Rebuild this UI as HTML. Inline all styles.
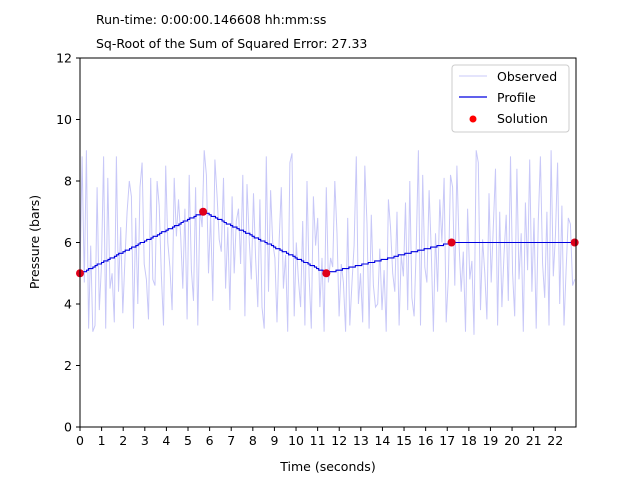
<!DOCTYPE html>
<html><head><meta charset="utf-8"><style>
body{margin:0;background:#fff;}
svg{display:block;font-family:"DejaVu Sans","Liberation Sans",sans-serif;}
</style></head><body>
<svg id="chart" width="640" height="480" viewBox="0 0 640 480">
<text x="96" y="24" font-size="12.5">Run-time: 0:00:00.146608 hh:mm:ss</text>
<text x="96" y="48" font-size="12.5">Sq-Root of the Sum of Squared Error: 27.33</text>
<g id="plot"></g>
<rect x="80" y="58" width="496" height="369" fill="none" stroke="#000" stroke-width="1"/>
<g id="axes"></g>
<text x="328" y="471" font-size="12.5" text-anchor="middle">Time (seconds)</text>
<text transform="translate(39,242) rotate(-90)" font-size="12.5" text-anchor="middle">Pressure (bars)</text>
<g>
<rect x="452" y="65" width="117" height="67" rx="3" fill="#fff" stroke="#ccc" stroke-width="1"/>
<line x1="459" y1="76" x2="487" y2="76" stroke="#c8c8f8" stroke-width="1"/>
<text x="497" y="81" font-size="12.5">Observed</text>
<line x1="459" y1="97" x2="487" y2="97" stroke="#0000e0" stroke-width="1.2"/>
<text x="497" y="102" font-size="12.5">Profile</text>
<circle cx="473" cy="119" r="3.5" fill="red"/>
<text x="497" y="123" font-size="12.5">Solution</text>
</g>
</svg>
<script>
const observed = [5.0,8.8,4.7,9.0,3.2,5.9,3.1,3.3,7.8,3.8,5.2,8.8,3.2,8.1,4.5,5.0,3.4,8.8,4.4,6.5,3.7,5.5,7.0,8.0,7.5,3.2,6.8,4.0,7.8,8.6,5.3,4.8,3.5,8.1,4.8,4.6,8.0,7.2,4.9,3.3,8.5,6.0,5.2,3.8,8.1,6.2,7.4,6.2,4.5,7.1,3.5,8.2,5.1,4.1,7.8,3.3,7.1,6.5,9.0,8.2,5.0,6.9,4.1,8.7,7.5,6.1,5.7,8.1,4.5,6.5,3.8,7.5,5.0,6.7,7.1,5.3,8.2,3.6,7.9,6.1,4.8,7.6,5.5,3.9,7.4,3.9,3.2,8.8,4.4,7.7,6.0,5.5,3.4,6.1,7.8,4.5,5.6,3.1,8.6,8.9,3.6,6.0,4.8,3.9,6.7,3.3,8.0,4.9,3.2,7.5,5.9,6.8,3.9,5.5,3.1,7.8,4.7,5.5,5.2,8.0,6.3,3.6,5.3,4.7,3.1,6.8,3.3,4.7,5.9,8.8,4.0,5.0,3.4,8.5,6.6,3.2,6.9,4.6,3.9,4.0,5.8,3.8,5.1,3.1,7.4,6.5,5.0,4.4,7.0,3.3,5.6,4.9,7.3,3.8,8.0,4.2,3.6,5.8,9.0,3.3,8.2,5.2,4.7,7.7,5.8,3.1,6.3,4.4,7.4,6.0,8.1,3.4,4.9,8.2,7.8,4.6,8.5,5.9,4.4,5.7,3.1,7.1,4.8,5.4,3.0,9.0,8.6,3.8,6.1,5.0,3.5,7.6,4.7,6.5,8.4,3.3,7.0,3.9,5.6,6.9,4.1,8.8,5.0,3.6,8.4,4.8,6.3,3.1,7.3,5.1,8.7,4.4,6.8,3.2,6.7,8.8,5.3,4.2,7.0,3.3,9.0,4.9,6.2,8.6,4.0,7.2,3.3,5.1,6.8,6.6,4.6,4.8];
const solTimes = [0,5.7,11.4,17.2,22.9];
const solValues = [5.0,7.0,5.0,6.0,6.0];
const xTicks = [0,1,2,3,4,5,6,7,8,9,10,11,12,13,14,15,16,17,18,19,20,21,22];
const yTicks = [0,2,4,6,8,10,12];
const NS="http://www.w3.org/2000/svg";
const X0=80,X1=576,Y0=427,Y1=58,XMAX=22.96,YMAX=12;
const sx=t=>X0+t/XMAX*(X1-X0);
const sy=v=>Y0-v/YMAX*(Y0-Y1);
const plot=document.getElementById('plot'),axes=document.getElementById('axes');
function mk(tag,attrs,parent){const e=document.createElementNS(NS,tag);for(const k in attrs)e.setAttribute(k,attrs[k]);parent.appendChild(e);return e;}
const dt=solTimes[solTimes.length-1]/(observed.length-1);
let p=observed.map((v,i)=>sx(i*dt).toFixed(1)+','+sy(v).toFixed(1)).join(' ');
const obs=mk('polyline',{points:p,fill:'none',stroke:'#c8c8f8','stroke-width':1},plot);


function interp(t){for(let i=0;i<solTimes.length-1;i++){if(t<=solTimes[i+1]){const f=(t-solTimes[i])/(solTimes[i+1]-solTimes[i]);return solValues[i]+f*(solValues[i+1]-solValues[i]);}}return solValues[solValues.length-1];}
const N=230,T=solTimes[solTimes.length-1];let pts=[];let prev=null;
for(let i=0;i<=N;i++){const t=i*T/N;const v=Math.round(interp(t)*20)/20;if(prev!==null&&v!==prev)pts.push(sx(t).toFixed(1)+','+sy(prev).toFixed(1));pts.push(sx(t).toFixed(1)+','+sy(v).toFixed(1));prev=v;}
const prof=mk('polyline',{points:pts.join(' '),fill:'none',stroke:'#0000e0','stroke-width':1.1},plot);


solTimes.forEach((t,i)=>{const c=mk('circle',{cx:sx(t),cy:sy(solValues[i]),r:4,fill:'#e0001a'},plot);

});
xTicks.forEach(t=>{mk('line',{x1:sx(t),x2:sx(t),y1:Y0,y2:Y0+4,stroke:'#000'},axes);
const tx=mk('text',{x:sx(t),y:Y0+18,'font-size':12.5,'text-anchor':'middle'},axes);tx.textContent=t;

});
yTicks.forEach(v=>{mk('line',{x1:X0-4,x2:X0,y1:sy(v),y2:sy(v),stroke:'#000'},axes);
const tx=mk('text',{x:X0-8,y:sy(v)+4.5,'font-size':12.5,'text-anchor':'end'},axes);tx.textContent=v;

});
</script>
</body></html>
